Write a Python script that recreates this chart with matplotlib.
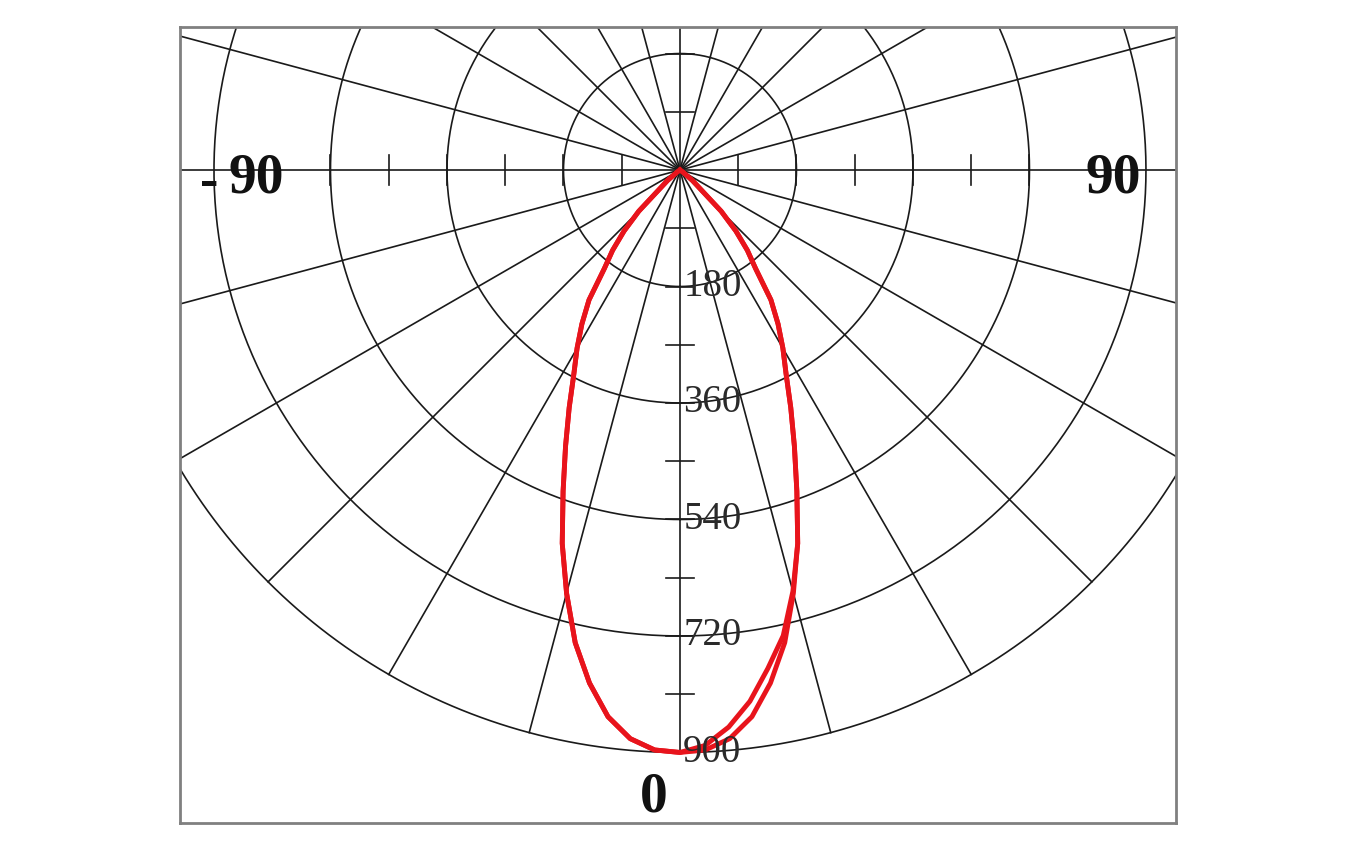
import numpy as np
import matplotlib.pyplot as plt

# angles (degrees from the downward vertical) and intensity readings
angles = [0, 2.5, 5, 7.5, 10, 12.5, 15, 17.5, 20, 22.5, 25, 27.5, 30,
          32.5, 35, 37.5, 40, 42.5, 45, 50, 55, 60, 70, 80, 90]

# curve A: same on both sides
curve_a = [900, 897, 882, 852, 805, 748, 677, 605, 528, 462, 405, 355, 318,
           282, 245, 192, 162, 128, 90, 25, 5, 0, 0, 0, 0]

# curve B: left like A, right side a bit narrower near the bottom
curve_b_left = curve_a
curve_b_right = [900, 890, 864, 828, 782, 737, 674, 605, 528, 462, 405, 355, 318,
                 282, 245, 192, 162, 128, 90, 25, 5, 0, 0, 0, 0]

rings = [180, 360, 540, 720, 900]
ring_labels = ['180', '360', '540', '720', '900']
spoke_step = 15
tick_step = 90

fig = plt.figure(figsize=(13.6, 8.5), dpi=100)
ax = fig.add_axes([180 / 1360, 27 / 850, 996 / 1360, 796 / 850])
ax.set_xlim(-772.5, 766.4)
ax.set_ylim(-1009, 221)
ax.set_xticks([])
ax.set_yticks([])
for s in ax.spines.values():
    s.set_color('#808080')
    s.set_linewidth(2)

grid_col = '#1a1a1a'
glw = 1.2

# circles (full, the box clips them)
t = np.linspace(0, 2 * np.pi, 720)
for r in rings:
    ax.plot(r * np.sin(t), -r * np.cos(t), color=grid_col, lw=glw)

# spokes every 15 degrees
for a in np.arange(0, 360, spoke_step):
    ar = np.radians(a)
    ax.plot([0, 900 * np.sin(ar)], [0, -900 * np.cos(ar)], color=grid_col, lw=glw)

# small ticks on both axes
for v in np.arange(tick_step, 900, tick_step):
    ax.plot([-21, 21], [-v, -v], color=grid_col, lw=glw)
for v in [tick_step, 2 * tick_step]:
    ax.plot([-21, 21], [v, v], color=grid_col, lw=glw)
for v in np.arange(tick_step, 560, tick_step):
    for sgn in (-1, 1):
        ax.plot([sgn * v, sgn * v], [-23, 23], color=grid_col, lw=glw)

# intensity curves
def to_xy(left, right):
    phi = np.radians(np.concatenate([-np.array(angles[::-1]), np.array(angles[1:])]))
    r = np.concatenate([np.array(left[::-1]), np.array(right[1:])])
    return r * np.sin(phi), -r * np.cos(phi)

red = '#e8141c'
xa, ya = to_xy(curve_a, curve_a)
xb, yb = to_xy(curve_b_left, curve_b_right)
ax.plot(xa, ya, color=red, lw=3.5, solid_joinstyle='round', zorder=5)
ax.plot(xb, yb, color=red, lw=3.5, solid_joinstyle='round', zorder=5)

# ring labels along the vertical axis
for r, lab in zip(rings, ring_labels):
    ax.text(5, -r, lab, ha='left', va='center', fontsize=28,
            family='Liberation Serif', color='#2a2a2a', zorder=6)

# angle labels
big = dict(family='Liberation Serif', fontweight='bold', fontsize=40,
           color='#111111', va='baseline', ha='left', zorder=6)
ax.text(-741.6, -42, '-', **big)
ax.text(-698, -35.5, '90', **big)
ax.text(625.8, -35.5, '90', **big)
ax.text(-61.8, -992, '0', **big)

plt.savefig('out.png', dpi=100)
